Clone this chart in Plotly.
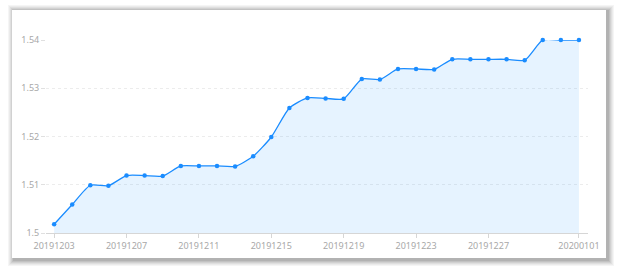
import plotly.graph_objects as go

dates = ["20191203","20191204","20191205","20191206","20191207","20191208","20191209","20191210",
         "20191211","20191212","20191213","20191214","20191215","20191216","20191217","20191218",
         "20191219","20191220","20191221","20191222","20191223","20191224","20191225","20191226",
         "20191227","20191228","20191229","20191230","20191231","20200101"]
values = [1.5018, 1.5059, 1.5099, 1.5098, 1.5119, 1.5119, 1.5118, 1.5139,
          1.5139, 1.5139, 1.5138, 1.5159, 1.5199, 1.5259, 1.5280, 1.5279,
          1.5278, 1.5319, 1.5318, 1.5340, 1.5340, 1.5339, 1.5360, 1.5360,
          1.5360, 1.5360, 1.5358, 1.5400, 1.5400, 1.5400]
x_tick_idx = [0, 4, 8, 12, 16, 20, 24, 29]
y_ticks = [1.5, 1.51, 1.52, 1.53, 1.54]
y_tick_text = ["1.5", "1.51", "1.52", "1.53", "1.54"]

W, H = 618, 269
L, R, T, B = 46, 30, 40, 36
pw, ph = W - L - R, H - T - B

def px(x):
    return (x - L) / pw

def py(y):
    return (H - B - y) / ph

xs = list(range(len(dates)))

fig = go.Figure()
fig.add_trace(go.Scatter(
    x=xs, y=values, mode="lines+markers",
    line=dict(color="#1a8cff", width=1.3, shape="spline", smoothing=0.6),
    marker=dict(color="#1a8cff", size=4.5),
    fill="tozeroy", fillcolor="rgba(30,144,255,0.11)",
    cliponaxis=False, hoverinfo="skip", showlegend=False,
))

shapes = []
for i, op in enumerate([0.04, 0.04, 0.05, 0.06, 0.07, 0.08]):
    e = 6 - i
    shapes.append(dict(type="rect", xref="paper", yref="paper", layer="below",
                       x0=px(12 - e + 2), x1=px(606 + e + 2),
                       y0=py(258 + e + 2), y1=py(10 - e + 1),
                       line=dict(width=0), fillcolor=f"rgba(0,0,0,{op})"))
shapes.append(dict(type="rect", xref="paper", yref="paper", layer="below",
                   x0=px(12), x1=px(606), y0=py(258), y1=py(10),
                   line=dict(width=0), fillcolor="white"))

fig.update_layout(
    width=W, height=H,
    margin=dict(l=L, r=R, t=T, b=B),
    paper_bgcolor="white", plot_bgcolor="rgba(0,0,0,0)",
    shapes=shapes,
    font=dict(family="Noto Sans, sans-serif", size=9, color="#a8a8a8"),
    xaxis=dict(range=[-0.45, 29.5], tickmode="array", tickvals=x_tick_idx,
               ticktext=[dates[i] for i in x_tick_idx],
               showgrid=False, zeroline=False, showline=True, linecolor="#d6d6d6",
               linewidth=1, ticks="outside", ticklen=4, tickcolor="#d6d6d6",
               tickfont=dict(size=9, color="#a8a8a8")),
    yaxis=dict(range=[1.5, 1.54], tickmode="array", tickvals=y_ticks, ticktext=y_tick_text,
               showgrid=True, gridcolor="#ececec", griddash="dot", gridwidth=1,
               zeroline=False, showline=False, ticks="outside", ticklen=4,
               tickcolor="#e0e0e0", tickfont=dict(size=9, color="#a8a8a8")),
)

fig.write_html("out.html")
